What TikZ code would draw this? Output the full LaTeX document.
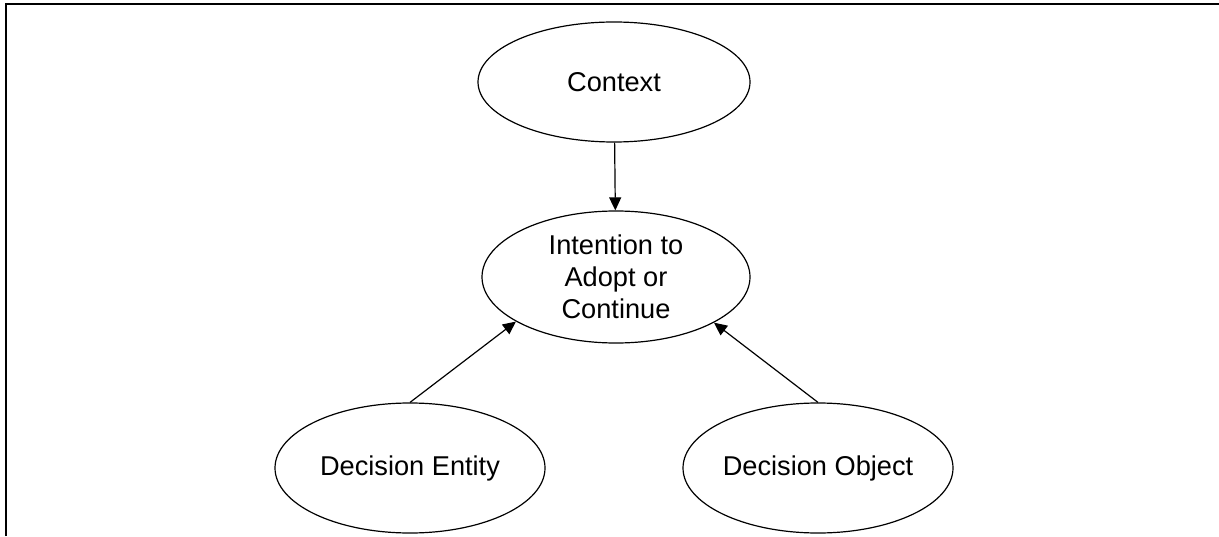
\documentclass[tikz,border=0pt]{standalone}
\usepackage{fontspec}
\setmainfont{Liberation Sans}
\usetikzlibrary{shapes.geometric, arrows.meta}

\begin{document}
\begin{tikzpicture}[->, >={Triangle[length=6.5pt, width=6pt]}, x=1pt, y=1pt,
            line width=0.6pt,
            construct/.style={ellipse, draw, inner sep=0pt, align=center,
                minimum width=135pt, minimum height=65pt,
                font=\fontsize{13.6}{16}\selectfont}]

        \useasboundingbox (0,0) rectangle (609.5,268);

        % --- Frame ---
        \draw[-, line width=1pt] (3,0) -- (3,266) -- (609.5,266);

        % --- Constructs ---
        \node[construct, minimum width=136pt, minimum height=60pt] (ctx) at (307,227) {Context};
        \node[construct, minimum width=134pt, minimum height=66pt] (int) at (308,129.5)
            {Intention to\\Adopt or\\Continue};
        \node[construct] (ent) at (205,34) {Decision Entity};
        \node[construct] (obj) at (409,34) {Decision Object};

        % --- Influences ---
        \draw (ctx) -- (int);
        \draw (ent.north) -- (int.204);
        \draw (obj.north) -- (int.335);

    \end{tikzpicture}
\end{document}
